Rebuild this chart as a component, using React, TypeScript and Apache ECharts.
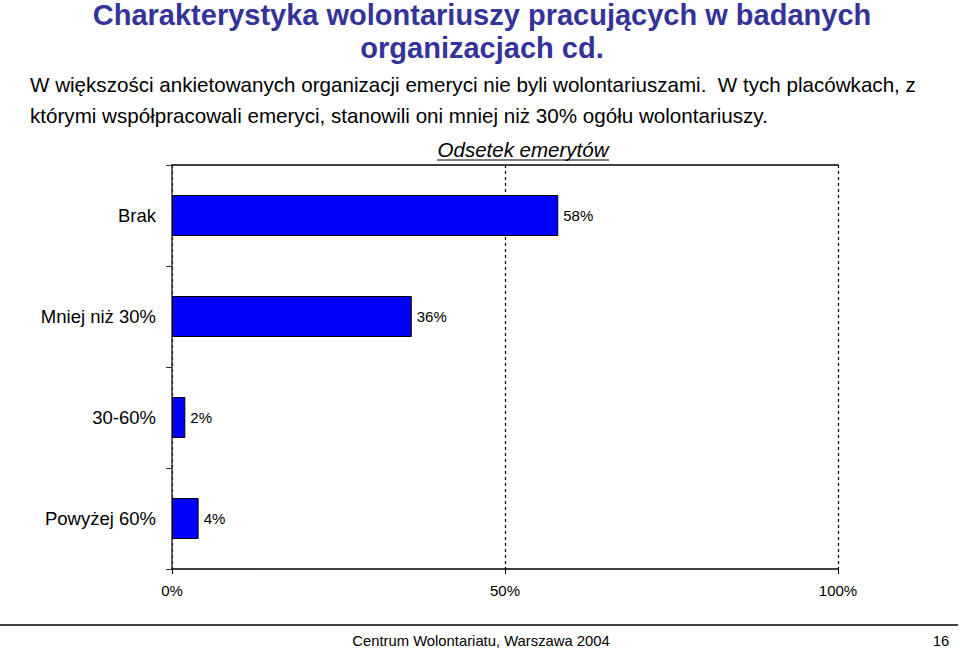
import React, { useEffect, useRef } from "react";
import * as echarts from "echarts";

const categories = ["Brak", "Mniej niż 30%", "30-60%", "Powyżej 60%"];
const values = [58, 36, 2, 4];
const xTicks = [0, 50, 100];

const FONT = "'Liberation Sans', Arial, sans-serif";

export default function App() {
  const ref = useRef<HTMLDivElement>(null);
  useEffect(() => {
    if (!ref.current) return;
    const chart = echarts.init(ref.current, null, { renderer: "svg" });
    chart.setOption({
      animation: false,
      backgroundColor: "#ffffff",
      textStyle: { fontFamily: FONT },
      grid: { left: 172, right: 122, top: 165, bottom: 82, containLabel: false },
      xAxis: [
        {
          type: "value",
          min: xTicks[0],
          max: xTicks[xTicks.length - 1],
          interval: 50,
          axisLine: { show: true, lineStyle: { color: "#000", width: 1.5 } },
          axisTick: { show: true, length: 5, lineStyle: { color: "#000" } },
          axisLabel: {
            formatter: "{value}%",
            fontSize: 15,
            color: "#000",
            margin: 14,
            fontFamily: FONT,
          },
          splitLine: {
            show: true,
            lineStyle: { color: "#000", type: [3, 3], width: 1.2 },
          },
        },
        {
          type: "value",
          position: "top",
          min: 0,
          max: 100,
          axisLine: { show: true, lineStyle: { color: "#000", width: 1.5 } },
          axisTick: { show: false },
          axisLabel: { show: false },
          splitLine: { show: false },
        },
      ],
      yAxis: {
        type: "category",
        data: categories,
        inverse: true,
        axisLine: { show: true, lineStyle: { color: "#333", width: 1.5 } },
        axisTick: { show: true, length: 6, lineStyle: { color: "#333" } },
        axisLabel: { fontSize: 18.5, color: "#000", margin: 16, fontFamily: FONT },
        splitLine: { show: false },
      },
      series: [
        {
          type: "bar",
          data: values,
          xAxisIndex: 0,
          barWidth: 41,
          itemStyle: { color: "#0000FF", borderColor: "#000", borderWidth: 1 },
          label: {
            show: true,
            position: "right",
            distance: 5,
            formatter: "{c}%",
            fontSize: 15,
            color: "#000",
            fontFamily: FONT,
          },
        },
      ],
      graphic: [
        {
          type: "text",
          x: 482,
          y: 15,
          style: {
            text: "Charakterystyka wolontariuszy pracujących w badanych",
            font: `bold 29px ${FONT}`,
            fill: "#333399",
            textAlign: "center",
            textVerticalAlign: "middle",
          },
        },
        {
          type: "text",
          x: 482,
          y: 48,
          style: {
            text: "organizacjach cd.",
            font: `bold 29px ${FONT}`,
            fill: "#333399",
            textAlign: "center",
            textVerticalAlign: "middle",
          },
        },
        {
          type: "text",
          x: 30,
          y: 84,
          style: {
            text: "W większości ankietowanych organizacji emeryci nie byli wolontariuszami.  W tych placówkach, z",
            font: `20.6px ${FONT}`,
            fill: "#000",
            textVerticalAlign: "middle",
          },
        },
        {
          type: "text",
          x: 30,
          y: 115,
          style: {
            text: "którymi współpracowali emeryci, stanowili oni mniej niż 30% ogółu wolontariuszy.",
            font: `20.6px ${FONT}`,
            fill: "#000",
            textVerticalAlign: "middle",
          },
        },
        {
          type: "text",
          x: 523,
          y: 149,
          style: {
            text: "Odsetek emerytów",
            font: `italic 20.5px ${FONT}`,
            fill: "#000",
            textAlign: "center",
            textVerticalAlign: "middle",
          },
        },
        {
          type: "line",
          shape: { x1: 437, y1: 160, x2: 609, y2: 160 },
          style: { stroke: "#000", lineWidth: 1 },
        },
        {
          type: "line",
          shape: { x1: 0, y1: 625, x2: 958, y2: 625 },
          style: { stroke: "#000", lineWidth: 1.5 },
        },
        {
          type: "text",
          x: 481,
          y: 641,
          style: {
            text: "Centrum Wolontariatu, Warszawa 2004",
            font: `14.8px ${FONT}`,
            fill: "#000",
            textAlign: "center",
            textVerticalAlign: "middle",
          },
        },
        {
          type: "text",
          x: 941,
          y: 641,
          style: {
            text: "16",
            font: `14.8px ${FONT}`,
            fill: "#000",
            textAlign: "center",
            textVerticalAlign: "middle",
          },
        },
      ],
    });
    return () => chart.dispose();
  }, []);
  return (
    <div
      ref={ref}
      style={{ position: "fixed", left: 0, top: 0, width: 960, height: 651 }}
    />
  );
}
